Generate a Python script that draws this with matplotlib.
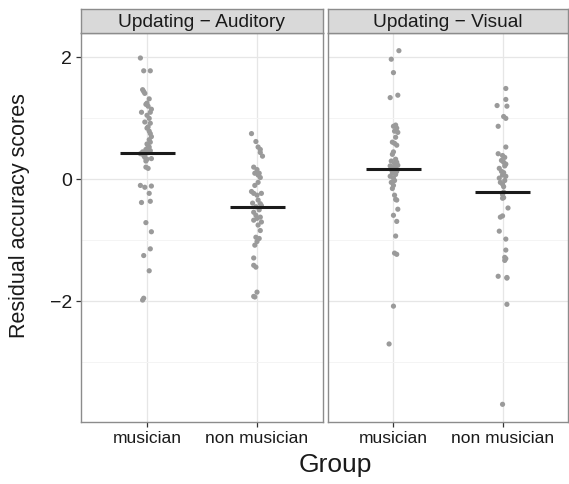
"""Residual accuracy scores by group, faceted by modality"""

import matplotlib
matplotlib.use("Agg")
import matplotlib.pyplot as plt
import numpy as np

plt.rcParams["font.family"] = ["Liberation Sans", "DejaVu Sans"]

groups = ["musician", "non musician"]
facets = ["Updating \u2212 Auditory", "Updating \u2212 Visual"]

aud_mus = [1.99, 1.78, 1.78, 1.47, 1.44, 1.41, 1.32, 1.25, 1.23, 1.20,
           1.15, 1.10, 1.10, 1.05, 1.00, 0.94, 0.92, 0.86, 0.84, 0.79,
           0.75, 0.70, 0.65, 0.61, 0.55, 0.53, 0.49, 0.47, 0.45, 0.42,
           0.39, 0.36, 0.34, 0.33, 0.30, 0.20, 0.18, -0.10, -0.13, -0.11,
           -0.23, -0.38, -0.36, -0.71, -0.86, -1.14, -1.25, -1.50, -1.98, -1.95,
           0.58, 0.44, 0.40]
aud_mus_jit = [-0.06, -0.03, 0.03, -0.04, -0.03, -0.02, 0.02, 0.00, -0.01, 0.01,
               0.04, -0.05, 0.03, 0.00, 0.02, -0.02, 0.03, 0.01, 0.00, 0.02,
               0.03, 0.04, 0.02, 0.03, 0.01, 0.02, -0.01, 0.03, -0.04, -0.06,
               -0.03, -0.02, 0.04, 0.00, -0.01, -0.01, 0.01, -0.06, -0.02, 0.04,
               0.02, -0.05, 0.03, -0.01, 0.04, 0.03, -0.03, 0.02, -0.04, -0.03,
               0.00, 0.01, -0.02]

aud_non = [0.75, 0.62, 0.53, 0.49, 0.44, 0.38, 0.20, 0.16, 0.10, 0.10,
           0.07, 0.03, -0.05, -0.10, -0.20, -0.23, -0.23, -0.26, -0.34, -0.39,
           -0.40, -0.43, -0.45, -0.50, -0.54, -0.59, -0.62, -0.64, -0.67, -0.70,
           -0.75, -0.84, -0.95, -0.97, -1.02, -1.08, -1.29, -1.41, -1.44, -1.85,
           -1.92, -1.93]
aud_non_jit = [-0.05, -0.01, 0.01, 0.03, 0.03, 0.05, -0.03, 0.00, -0.02, 0.02,
               0.01, 0.03, 0.01, -0.02, -0.05, -0.03, 0.04, 0.00, 0.01, -0.04,
               0.03, 0.04, -0.01, 0.02, -0.03, -0.01, 0.03, 0.00, -0.03, 0.04,
               0.01, 0.03, -0.01, 0.02, 0.00, -0.02, -0.03, -0.03, -0.01, 0.00,
               -0.03, -0.02]

vis_mus = [2.11, 1.97, 1.75, 1.38, 1.34, 0.89, 0.87, 0.84, 0.79, 0.77,
           0.69, 0.61, 0.59, 0.56, 0.45, 0.41, 0.33, 0.30, 0.28, 0.26,
           0.23, 0.22, 0.20, 0.18, 0.16, 0.13, 0.12, 0.10, 0.08, 0.05,
           0.02, -0.02, -0.05, -0.10, -0.15, -0.26, -0.33, -0.34, -0.49, -0.59,
           -0.69, -0.93, -1.21, -1.23, -2.08, -2.70]
vis_mus_jit = [0.05, -0.02, 0.00, 0.04, -0.03, 0.02, 0.00, 0.03, 0.01, 0.04,
               0.02, -0.01, 0.01, 0.03, 0.00, -0.01, 0.02, -0.02, 0.03, 0.01,
               0.04, -0.03, 0.00, 0.02, -0.02, 0.03, 0.01, -0.01, 0.02, -0.03,
               0.00, 0.01, -0.02, 0.00, -0.01, 0.01, 0.02, 0.03, 0.04, 0.00,
               0.03, 0.02, 0.01, 0.03, 0.00, -0.04]

vis_non = [1.49, 1.31, 1.21, 1.20, 1.03, 1.00, 0.87, 0.53, 0.42, 0.39,
           0.36, 0.31, 0.28, 0.25, 0.22, 0.18, 0.13, 0.11, 0.07, 0.05,
           0.02, -0.02, -0.05, -0.08, -0.12, -0.21, -0.25, -0.30, -0.31, -0.47,
           -0.60, -0.62, -0.85, -0.98, -1.16, -1.28, -1.30, -1.33, -1.59, -1.61,
           -1.62, -2.05, -3.69]
vis_non_jit = [0.03, 0.03, -0.05, 0.04, 0.01, 0.03, -0.04, 0.03, -0.04, 0.00,
               0.02, -0.01, 0.01, 0.03, 0.02, -0.03, -0.01, 0.01, 0.00, 0.03,
               -0.03, 0.02, -0.02, 0.00, 0.01, 0.01, 0.00, 0.01, 0.00, 0.05,
               0.00, -0.02, -0.03, 0.03, 0.03, 0.02, 0.03, 0.02, -0.04, 0.04,
               0.04, 0.04, 0.00]

panel_data = [
    [(aud_mus, aud_mus_jit), (aud_non, aud_non_jit)],
    [(vis_mus, vis_mus_jit), (vis_non, vis_non_jit)],
]

W, H = 569, 484
fig = plt.figure(figsize=(W / 100, H / 100), dpi=100)

all_vals = aud_mus + aud_non + vis_mus + vis_non
lo, hi = min(all_vals), max(all_vals)
pad = 0.05 * (hi - lo)
ylim = (lo - pad, hi + pad)

panel_boxes = [(81, 323), (328, 568)]
top_px, bottom_px, strip_px = 33, 422, 24
border = "#8c8c8c"

for i, (facet, (x0, x1)) in enumerate(zip(facets, panel_boxes)):
    ax = fig.add_axes([x0 / W, 1 - bottom_px / H, (x1 - x0) / W, (bottom_px - top_px) / H])
    ax.set_xlim(0.4, 2.6)
    ax.set_ylim(*ylim)
    ax.set_yticks([-2, 0, 2])
    ax.set_yticks([-3, -1, 1], minor=True)
    ax.set_xticks([1, 2])
    ax.set_xticklabels(groups)
    ax.grid(True, which="major", color="#e6e6e6", linewidth=0.9, zorder=0)
    ax.grid(True, which="minor", axis="y", color="#f4f4f4", linewidth=0.7, zorder=0)
    ax.set_axisbelow(True)
    for s in ax.spines.values():
        s.set_color(border)
        s.set_linewidth(1.0)
    ax.tick_params(axis="both", which="major", length=3.5, width=0.9,
                   color="#333333", labelsize=12.5, labelcolor="#1a1a1a", pad=3)
    ax.tick_params(axis="y", which="minor", length=0)
    if i > 0:
        ax.tick_params(axis="y", which="major", length=0, labelleft=False)
    else:
        ax.tick_params(axis="y", labelsize=14)

    for k, (vals, jit) in enumerate(panel_data[i]):
        xs = np.array(jit) + k + 1
        ax.scatter(xs, vals, s=14, color="#9a9a9a", edgecolors="none", zorder=3)
        m = np.mean(vals)
        ax.plot([k + 1 - 0.25, k + 1 + 0.25], [m, m], color="#1a1a1a", lw=2.2,
                solid_capstyle="butt", zorder=4)

    # facet strip
    sax = fig.add_axes([x0 / W, 1 - top_px / H, (x1 - x0) / W, strip_px / H])
    sax.set_facecolor("#d9d9d9")
    sax.set_xticks([])
    sax.set_yticks([])
    for s in sax.spines.values():
        s.set_color(border)
        s.set_linewidth(1.0)
    sax.text(0.5, 0.45, facet, ha="center", va="center", fontsize=13.8,
             color="#1a1a1a", transform=sax.transAxes)

fig.text(335 / W, 1 - 465 / H, "Group", ha="center", va="center", fontsize=19, color="#1a1a1a")
fig.text(20 / W, 1 - 216 / H, "Residual accuracy scores", ha="center", va="center",
         rotation=90, fontsize=15.5, color="#1a1a1a")

fig.savefig("out.png", dpi=100, facecolor="white")
